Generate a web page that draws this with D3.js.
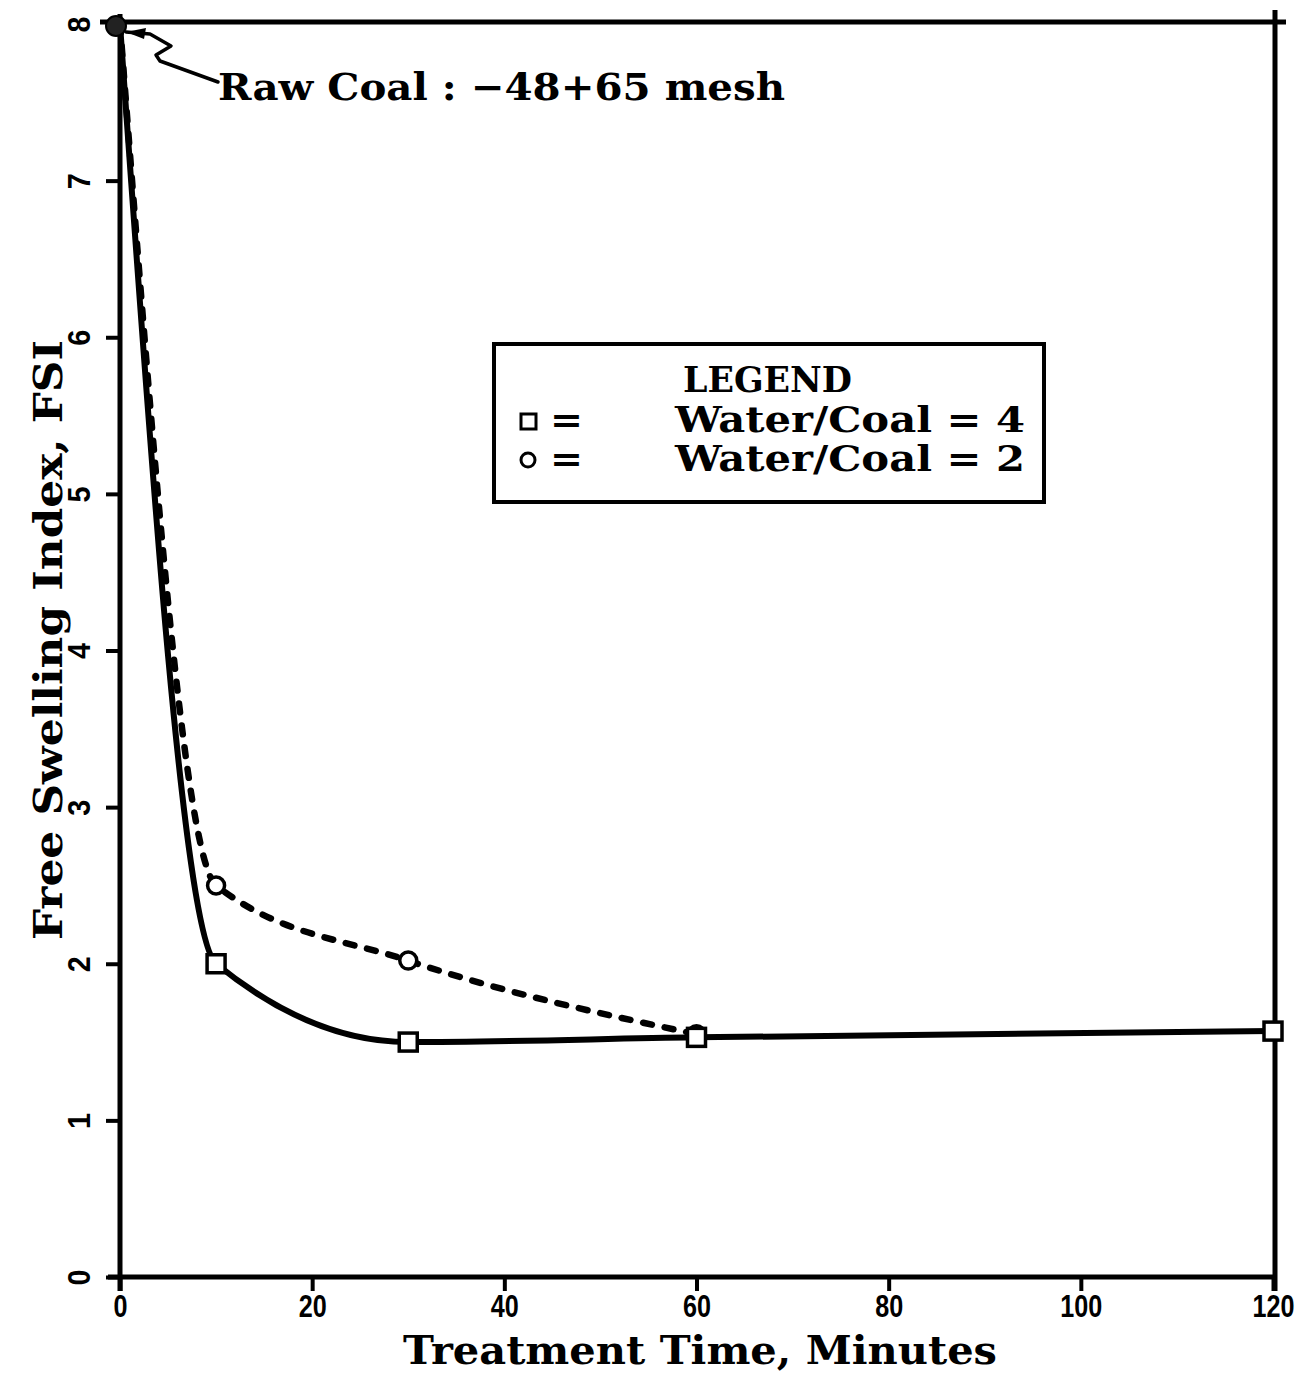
<!DOCTYPE html>
<html>
<head>
<meta charset="utf-8">
<script src="https://cdn.jsdelivr.net/npm/d3@7"></script>
<style>
  html, body { margin: 0; padding: 0; background: #fff; }
  svg { display: block; }
</style>
</head>
<body>
<svg id="chart" width="1308" height="1376"></svg>
<script>
// ---- data ----
const timeW4 = [0, 10, 30, 60, 120];
const fsiW4  = [8, 2.0, 1.5, 1.53, 1.57];
const timeW2 = [0, 10, 30, 60];
const fsiW2  = [8, 2.5, 2.02, 1.55];
const rawTime = [0];
const rawFSI  = [8];
const xTicks = [0, 20, 40, 60, 80, 100, 120];
const yTicks = [0, 1, 2, 3, 4, 5, 6, 7, 8];
const xTitle = "Treatment Time, Minutes";
const yTitle = "Free Swelling Index, FSI";
const annotation = "Raw Coal : \u221248+65 mesh";
const legendTitle = "LEGEND";
const legendLabels = ["Water/Coal = 4", "Water/Coal = 2"];

// ---- layout ----
const svg = d3.select("#chart");
const x = d3.scaleLinear().domain([0, 120]).range([120, 1273]);
const y = d3.scaleLinear().domain([0, 8]).range([1277, 24]);
const serif = "'DejaVu Serif', serif";
const sans = "'Liberation Sans', Arial, sans-serif";

// frame
const g = svg.append("g");
g.append("line").attr("x1", 100).attr("x2", 1286).attr("y1", y(8) - 2).attr("y2", y(8) - 2)
  .attr("stroke", "#000").attr("stroke-width", 5);
g.append("line").attr("x1", x(120) + 2).attr("x2", x(120) + 2).attr("y1", 10).attr("y2", 1291)
  .attr("stroke", "#000").attr("stroke-width", 5);

// x axis
const xAxis = d3.axisBottom(x).tickValues(xTicks).tickSize(14).tickSizeOuter(0).tickFormat(d3.format("d"));
const gx = svg.append("g").attr("transform", `translate(0,${y(0)})`).call(xAxis);
gx.select(".domain").attr("stroke", "#000").attr("stroke-width", 5)
  .attr("d", `M${x(0) - 12},0H${x(120) + 3}`);
gx.selectAll(".tick line").attr("stroke", "#000").attr("stroke-width", 4);
gx.selectAll(".tick text")
  .attr("y", 0).attr("dy", 0)
  .attr("transform", "translate(0,40)")
  .attr("font-family", sans).attr("font-weight", "bold").attr("font-size", 31)
  .attr("fill", "#000")
  .attr("textLength", d => String(d).length * 14)
  .attr("lengthAdjust", "spacingAndGlyphs");

// y axis
const yAxis = d3.axisLeft(y).tickValues(yTicks).tickSize(14).tickSizeOuter(0).tickFormat(d3.format("d"));
const gy = svg.append("g").attr("transform", `translate(${x(0)},0)`).call(yAxis);
gy.select(".domain").attr("stroke", "#000").attr("stroke-width", 5)
  .attr("d", `M0,14V1291`);
gy.selectAll(".tick line").attr("stroke", "#000").attr("stroke-width", 4);
gy.selectAll(".tick text")
  .attr("x", 0).attr("dy", 0)
  .attr("text-anchor", "middle")
  .attr("transform", "translate(-41,0) rotate(-90) translate(0,11)")
  .attr("font-family", sans).attr("font-weight", "bold").attr("font-size", 31)
  .attr("fill", "#000")
  .attr("textLength", 16)
  .attr("lengthAdjust", "spacingAndGlyphs");

// axis titles
svg.append("text").text(xTitle)
  .attr("x", 403).attr("y", 1364)
  .attr("font-family", serif).attr("font-weight", "bold").attr("font-size", 40)
  .attr("textLength", 594).attr("lengthAdjust", "spacingAndGlyphs");
svg.append("text").text(yTitle)
  .attr("transform", "translate(62,940) rotate(-90)")
  .attr("font-family", serif).attr("font-weight", "bold").attr("font-size", 40)
  .attr("textLength", 600).attr("lengthAdjust", "spacingAndGlyphs");

// ---- lines ----
const w4 = timeW4.map((t, i) => [t, fsiW4[i]]);
const w2 = timeW2.map((t, i) => [t, fsiW2[i]]);
const line = d3.line().x(d => x(d[0])).y(d => y(d[1])).curve(d3.curveMonotoneX);

svg.append("path").attr("d", line(w2)).attr("fill", "none").attr("stroke", "#000")
  .attr("stroke-width", 6.5).attr("stroke-dasharray", "9,13").attr("stroke-linecap", "round");
svg.append("path").attr("d", line(w4)).attr("fill", "none").attr("stroke", "#000")
  .attr("stroke-width", 6);

// markers
svg.selectAll("circle.w2").data(w2.slice(1)).join("circle").attr("class", "w2")
  .attr("cx", d => x(d[0])).attr("cy", d => y(d[1])).attr("r", 8.5)
  .attr("fill", "#fff").attr("stroke", "#000").attr("stroke-width", 3.5);
svg.selectAll("rect.w4").data(w4.slice(1)).join("rect").attr("class", "w4")
  .attr("x", d => x(d[0]) - 9).attr("y", d => y(d[1]) - 9).attr("width", 18).attr("height", 18)
  .attr("fill", "#fff").attr("stroke", "#000").attr("stroke-width", 3.5);

// raw coal point
const raw = rawTime.map((t, i) => [t, rawFSI[i]]);
svg.selectAll("circle.raw").data(raw).join("circle").attr("class", "raw")
  .attr("cx", d => x(d[0]) - 4).attr("cy", d => y(d[1]) + 2).attr("r", 10)
  .attr("fill", "#222").attr("stroke", "#000").attr("stroke-width", 2);

// annotation leader
const ax = x(rawTime[0]) - 4, ay = y(rawFSI[0]) + 2;
svg.append("path")
  .attr("d", `M${ax + 10},${ay + 6} L${ax + 34},${ay + 8} L${ax + 55},${ay + 20} L${ax + 40},${ay + 29} L${ax + 44},${ay + 35} L${ax + 102},${ay + 56}`)
  .attr("fill", "none").attr("stroke", "#000").attr("stroke-width", 3.5)
  .attr("stroke-linejoin", "round").attr("stroke-linecap", "round");
svg.append("path")
  .attr("d", `M${ax + 10},${ay + 6} L${ax + 30},${ay + 2} L${ax + 28},${ay + 13} Z`)
  .attr("fill", "#000");
svg.append("text").text(annotation)
  .attr("x", 218).attr("y", 100)
  .attr("font-family", serif).attr("font-weight", "bold").attr("font-size", 38)
  .attr("textLength", 567).attr("lengthAdjust", "spacingAndGlyphs");

// ---- legend ----
const lg = svg.append("g");
lg.append("rect").attr("x", 494).attr("y", 344).attr("width", 550).attr("height", 158)
  .attr("fill", "#fff").attr("stroke", "#000").attr("stroke-width", 4);
lg.append("text").text(legendTitle).attr("x", 683).attr("y", 392)
  .attr("font-family", serif).attr("font-weight", "bold").attr("font-size", 35)
  .attr("textLength", 169).attr("lengthAdjust", "spacingAndGlyphs");
const rows = [{sym: "square", y: 432, label: legendLabels[0]}, {sym: "circle", y: 471, label: legendLabels[1]}];
rows.forEach(r => {
  if (r.sym === "square") {
    lg.append("rect").attr("x", 521).attr("y", r.y - 18).attr("width", 15).attr("height", 15)
      .attr("fill", "#fff").attr("stroke", "#000").attr("stroke-width", 3);
  } else {
    lg.append("circle").attr("cx", 528).attr("cy", r.y - 11).attr("r", 7)
      .attr("fill", "#fff").attr("stroke", "#000").attr("stroke-width", 3);
  }
  lg.append("text").text("=").attr("x", 550).attr("y", r.y)
    .attr("font-family", serif).attr("font-weight", "bold").attr("font-size", 35)
    .attr("textLength", 33).attr("lengthAdjust", "spacingAndGlyphs");
  lg.append("text").text(r.label).attr("x", 675).attr("y", r.y)
    .attr("font-family", serif).attr("font-weight", "bold").attr("font-size", 35)
    .attr("textLength", 350).attr("lengthAdjust", "spacingAndGlyphs");
});
</script>
</body>
</html>
